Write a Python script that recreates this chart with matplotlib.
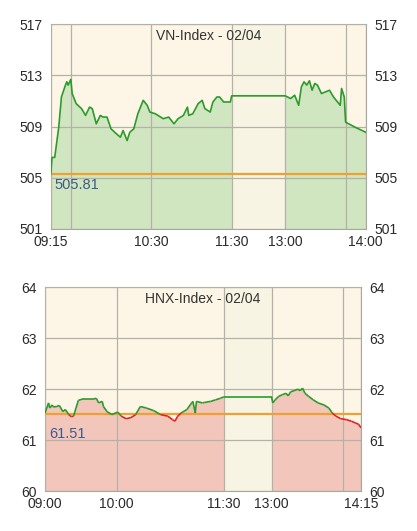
import numpy as np
import matplotlib
matplotlib.use('Agg')
from matplotlib import pyplot as plt
from matplotlib.collections import LineCollection

plt.rcParams['font.family'] = ['Liberation Sans', 'DejaVu Sans']

# VN-Index (HOSE), 02/04
vn_title = 'VN-Index - 02/04'
vn_ref = 505.81
vn_times = ['09:15', '09:16', '09:18', '09:21', '09:23', '09:26', '09:27', '09:28',
            '09:30', '09:31', '09:34', '09:38', '09:41', '09:44', '09:46', '09:49',
            '09:52', '09:54', '09:57', '10:00', '10:04', '10:07', '10:09', '10:12',
            '10:14', '10:17', '10:20', '10:24', '10:27', '10:29', '10:33', '10:37',
            '10:39', '10:43', '10:47', '10:50', '10:54', '10:57', '10:58', '11:01',
            '11:05', '11:08', '11:10', '11:14', '11:16', '11:19', '11:21', '11:24',
            '11:27', '11:29', '11:30', '13:00', '13:04', '13:07', '13:09', '13:10',
            '13:12', '13:14', '13:16', '13:18', '13:20', '13:22', '13:24', '13:27',
            '13:30', '13:33', '13:36', '13:38', '13:41', '13:42', '13:44', '13:45',
            '13:52', '14:00']
vn_values = [505.77, 507.08, 507.08, 509.45, 511.81, 512.74, 513.00, 512.74,
             513.19, 512.08, 511.29, 510.90, 510.37, 511.02, 510.90, 509.71,
             510.37, 510.24, 510.24, 509.32, 508.93, 508.66, 509.19, 508.40,
             509.05, 509.32, 510.50, 511.55, 511.16, 510.63, 510.50, 510.24,
             510.11, 510.24, 509.71, 510.11, 510.37, 511.02, 510.37, 510.50,
             511.29, 511.55, 510.90, 510.63, 511.42, 511.81, 511.81, 511.42,
             511.42, 511.42, 511.90, 511.90, 511.69, 511.95, 511.42, 511.16,
             512.60, 513.00, 512.74, 513.08, 512.34, 512.87, 512.74, 512.08,
             512.21, 512.34, 511.81, 511.55, 511.16, 512.48, 511.81, 509.84,
             509.45, 509.05]
vn_yticks = [501.5, 505.5, 509.5, 513.5, 517.5]
vn_ylabels = ['501', '505', '509', '513', '517']
vn_xlabels = ['09:15', '10:30', '11:30', '13:00', '14:00']
vn_xextra = ['09:30', '13:45']

# HNX-Index, 02/04
hnx_title = 'HNX-Index - 02/04'
hnx_ref = 61.51
hnx_times = ['09:00', '09:03', '09:04', '09:06', '09:07', '09:10', '09:12', '09:15',
             '09:17', '09:20', '09:22', '09:24', '09:26', '09:28', '09:32', '09:41',
             '09:43', '09:45', '09:48', '09:49', '09:52', '09:56', '10:01', '10:04',
             '10:08', '10:12', '10:16', '10:20', '10:25', '10:31', '10:37', '10:43',
             '10:47', '10:49', '10:51', '10:54', '10:59', '11:03', '11:04', '11:06',
             '11:07', '11:12', '11:14', '11:19', '11:23', '11:27', '11:30', '13:00',
             '13:01', '13:03', '13:06', '13:09', '13:12', '13:14', '13:16', '13:19',
             '13:22', '13:24', '13:26', '13:28', '13:31', '13:35', '13:39', '13:44',
             '13:48', '13:51', '13:54', '13:58', '14:03', '14:07', '14:10', '14:13',
             '14:15']
hnx_values = [61.53, 61.73, 61.63, 61.69, 61.65, 61.66, 61.68, 61.56,
              61.60, 61.50, 61.46, 61.47, 61.63, 61.78, 61.81, 61.81,
              61.82, 61.73, 61.76, 61.66, 61.56, 61.50, 61.55, 61.47,
              61.42, 61.44, 61.50, 61.66, 61.63, 61.58, 61.50, 61.47,
              61.40, 61.37, 61.46, 61.53, 61.60, 61.73, 61.76, 61.53,
              61.76, 61.73, 61.74, 61.76, 61.79, 61.82, 61.85, 61.85,
              61.73, 61.79, 61.86, 61.89, 61.92, 61.87, 61.95, 61.97,
              62.00, 61.97, 62.02, 61.92, 61.86, 61.79, 61.73, 61.69,
              61.63, 61.53, 61.47, 61.42, 61.40, 61.37, 61.34, 61.31,
              61.24]
hnx_yticks = [60, 61, 62, 63, 64]
hnx_ylabels = ['60', '61', '62', '63', '64']
hnx_xlabels = ['09:00', '10:00', '11:30', '13:00', '14:15']
hnx_xextra = ['14:00']

BG = '#fdf6e6'
BREAK = '#f8f4e3'
GRID = '#b4b2a8'
GREEN = '#2c9a2c'
RED = '#e02424'
ORANGE = '#f0a030'


def minutes(t):
    h, m = t.split(':')
    return int(h) * 60 + int(m)


def to_axis(times):
    """Map clock time to axis position, lunch break squeezed to 40 min wide."""
    out = []
    for t in times:
        m = minutes(t)
        if m >= 13 * 60:
            m = m - 90 + 40
        elif m > 11 * 60 + 30:
            m = 11 * 60 + 30
        out.append(m)
    return np.array(out, dtype=float)


def draw_panel(ax, title, ref, times, values, yticks, ylabels, xlabels,
               xextra, fill, two_colour, label_off):
    x = to_axis(times)
    y = np.array(values)
    ax.set_facecolor(BG)
    ax.set_xlim(x[0], x[-1])
    ax.set_ylim(yticks[0], yticks[-1])

    ax.fill_between(x, y, yticks[0], color=fill, lw=0, zorder=1)
    b0, b1 = to_axis(['11:30', '13:00'])
    ax.axvspan(b0, b1, color=BREAK, lw=0, zorder=1.5)

    ax.set_yticks(yticks)
    ax.set_yticklabels(ylabels)
    ax.set_xticks(to_axis(xlabels))
    ax.set_xticklabels(xlabels)
    ax.set_xticks(to_axis(xextra), minor=True)
    ax.grid(True, which='both', color=GRID, lw=0.9, zorder=2)
    ax.set_axisbelow(False)
    ax.tick_params(which='both', length=0, labelsize=10, colors='#2a2a2a',
                   labelright=True, pad=4.5)
    ax.tick_params(axis='y', pad=6)
    for s in ax.spines.values():
        s.set_color('#a8a8a0')
        s.set_linewidth(0.8)

    ax.axhline(ref, color=ORANGE, lw=1.6, zorder=3)

    if two_colour:
        pts = np.column_stack([x, y])
        segs = np.stack([pts[:-1], pts[1:]], axis=1)
        mid = (y[:-1] + y[1:]) / 2
        cols = [GREEN if v >= ref else RED for v in mid]
        ax.add_collection(LineCollection(segs, colors=cols, lw=1.2, zorder=4))
    else:
        ax.plot(x, y, color=GREEN, lw=1.2, zorder=4)

    ax.text(0.5, 0.975, title, transform=ax.transAxes, ha='center', va='top',
            fontsize=10, color='#333333', zorder=5)
    ax.annotate(f'{ref:.2f}', xy=(0, ref), xycoords=('axes fraction', 'data'),
                xytext=(3, label_off), textcoords='offset points',
                ha='left', va='top', fontsize=10.5, color='#3d5b8a', zorder=5)


def main():
    fig = plt.figure(figsize=(4.17, 5.31), dpi=100)
    ax1 = fig.add_axes([0.1216, 0.5693, 0.7554, 0.3849])
    ax2 = fig.add_axes([0.1079, 0.0753, 0.7578, 0.3836])

    draw_panel(ax1, vn_title, vn_ref, vn_times, vn_values, vn_yticks,
               vn_ylabels, vn_xlabels, vn_xextra, '#d0e6c0', False, -3)
    draw_panel(ax2, hnx_title, hnx_ref, hnx_times, hnx_values, hnx_yticks,
               hnx_ylabels, hnx_xlabels, hnx_xextra, '#f3c6bc', True, -9)

    fig.savefig('out.png', dpi=100)


if __name__ == '__main__':
    main()
